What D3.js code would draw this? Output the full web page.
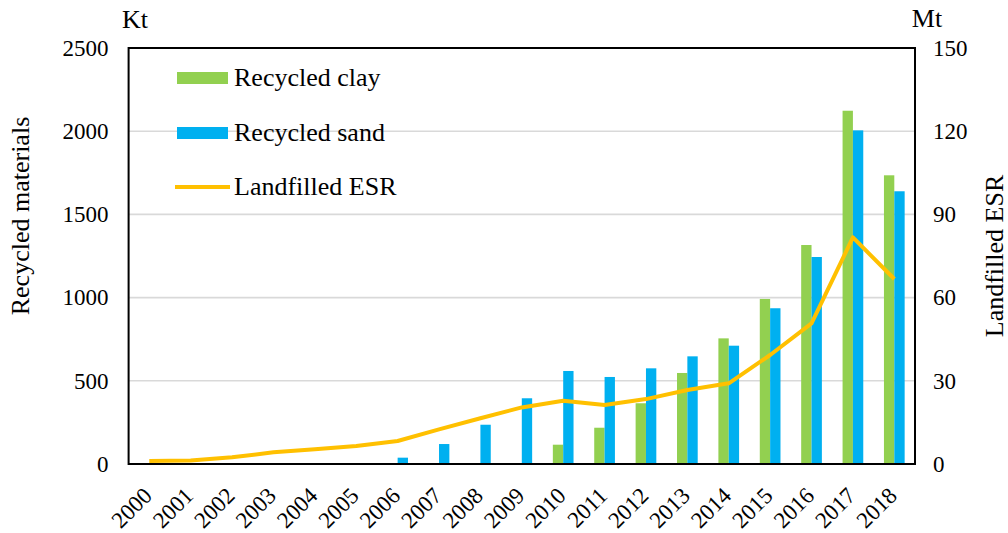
<!DOCTYPE html>
<html>
<head>
<meta charset="utf-8">
<script src="https://cdn.jsdelivr.net/npm/d3@7/dist/d3.min.js"></script>
<style>
  html, body { margin: 0; padding: 0; background: #fff; }
  svg { display: block; font-family: "Liberation Serif", "Times New Roman", serif; }
</style>
</head>
<body>
<svg id="chart" width="1008" height="533"></svg>
<script>
const years = ["2000","2001","2002","2003","2004","2005","2006","2007","2008","2009",
               "2010","2011","2012","2013","2014","2015","2016","2017","2018"];
const recycledClay = [0,0,0,0,0,0,0,0,0,0,116,218,365,547,755,992,1316,2123,1735];
const recycledSand = [0,0,0,0,0,0,38,120,236,395,559,523,575,647,711,936,1244,2005,1639];
const landfilledESR = [1.1,1.3,2.4,4.2,5.3,6.5,8.3,12.5,16.5,20.4,22.8,21.3,23.4,26.7,29.1,39.3,50.7,81.7,66.7];
const leftTicks = [0,500,1000,1500,2000,2500];
const rightTicks = [0,30,60,90,120,150];
const seriesNames = ["Recycled clay","Recycled sand","Landfilled ESR"];
const colors = {clay:"#92d050", sand:"#00b0f0", esr:"#ffc000"};

const svg = d3.select("#chart");
const L = 128.6, R = 915, T = 48, B = 464;
const FONT = "Liberation Serif, Times New Roman, serif";

const x = d3.scaleBand().domain(years).range([L, R]).paddingInner(0.5).paddingOuter(0.25);
const xSub = d3.scaleBand().domain(["clay","sand"]).range([0, x.bandwidth()]);
const yL = d3.scaleLinear().domain([0, 2500]).range([B, T]);
const yR = d3.scaleLinear().domain([0, 150]).range([B, T]);

// gridlines
svg.append("g").selectAll("line").data(leftTicks.filter(d => d > 0 && d < 2500)).join("line")
  .attr("x1", L).attr("x2", R).attr("y1", d => yL(d)).attr("y2", d => yL(d))
  .attr("stroke", "#d9d9d9").attr("stroke-width", 1.6);

// bars
const rows = years.map((yv, i) => ({year: yv, clay: recycledClay[i], sand: recycledSand[i]}));
const gBars = svg.append("g");
["clay","sand"].forEach(k => {
  gBars.selectAll("rect." + k).data(rows.filter(r => r[k] > 0)).join("rect")
    .attr("class", k)
    .attr("x", d => x(d.year) + xSub(k))
    .attr("width", xSub.bandwidth())
    .attr("y", d => yL(d[k]))
    .attr("height", d => B - yL(d[k]))
    .attr("fill", colors[k]);
});

// line
const line = d3.line().x((d, i) => x(years[i]) + x.bandwidth() / 2).y(d => yR(d));
svg.append("path").datum(landfilledESR).attr("d", line)
  .attr("fill", "none").attr("stroke", colors.esr).attr("stroke-width", 4)
  .attr("stroke-linejoin", "round").attr("stroke-linecap", "butt");

// frame
svg.append("rect").attr("x", L).attr("y", T).attr("width", R - L).attr("height", B - T)
  .attr("fill", "none").attr("stroke", "#000").attr("stroke-width", 2);

// left axis
const axL = svg.append("g").attr("transform", `translate(${L},0)`)
  .call(d3.axisLeft(yL).tickValues(leftTicks).tickSize(0).tickPadding(20).tickFormat(d3.format("d")));
axL.select(".domain").remove();
axL.selectAll("text").attr("font-size", 23).attr("fill", "#000").attr("font-family", FONT);

// right axis
const axR = svg.append("g").attr("transform", `translate(${R},0)`)
  .call(d3.axisRight(yR).tickValues(rightTicks).tickSize(0).tickPadding(18).tickFormat(d3.format("d")));
axR.select(".domain").remove();
axR.selectAll("text").attr("font-size", 23).attr("fill", "#000").attr("font-family", FONT);

// bottom axis
const axB = svg.append("g").attr("transform", `translate(0,${B})`)
  .call(d3.axisBottom(x).tickSize(0));
axB.select(".domain").remove();
axB.selectAll("text")
  .attr("font-size", 23).attr("fill", "#000").attr("font-family", FONT)
  .attr("text-anchor", "end").attr("dy", null).attr("y", 0)
  .attr("transform", "translate(4,33) rotate(-45)");

// units
svg.append("text").attr("x", 135).attr("y", 28).attr("text-anchor", "middle")
  .attr("font-size", 26).text("Kt");
svg.append("text").attr("x", 927).attr("y", 27).attr("text-anchor", "middle")
  .attr("font-size", 26).text("Mt");

// axis titles
svg.append("text").attr("transform", "translate(29,216) rotate(-90)")
  .attr("text-anchor", "middle").attr("font-size", 26).text("Recycled materials");
svg.append("text").attr("transform", "translate(1003,256) rotate(-90)")
  .attr("text-anchor", "middle").attr("font-size", 26).text("Landfilled ESR");

// legend
const lg = svg.append("g");
const rowY = [78, 133, 187];
lg.append("rect").attr("x", 177).attr("y", rowY[0] - 6).attr("width", 51).attr("height", 12).attr("fill", colors.clay);
lg.append("rect").attr("x", 177).attr("y", rowY[1] - 6).attr("width", 51).attr("height", 12).attr("fill", colors.sand);
lg.append("line").attr("x1", 175).attr("x2", 230).attr("y1", rowY[2]).attr("y2", rowY[2])
  .attr("stroke", colors.esr).attr("stroke-width", 4);
seriesNames.forEach((n, i) => {
  lg.append("text").attr("x", 234).attr("y", rowY[i] + 8).attr("font-size", 26).text(n);
});
</script>
</body>
</html>
